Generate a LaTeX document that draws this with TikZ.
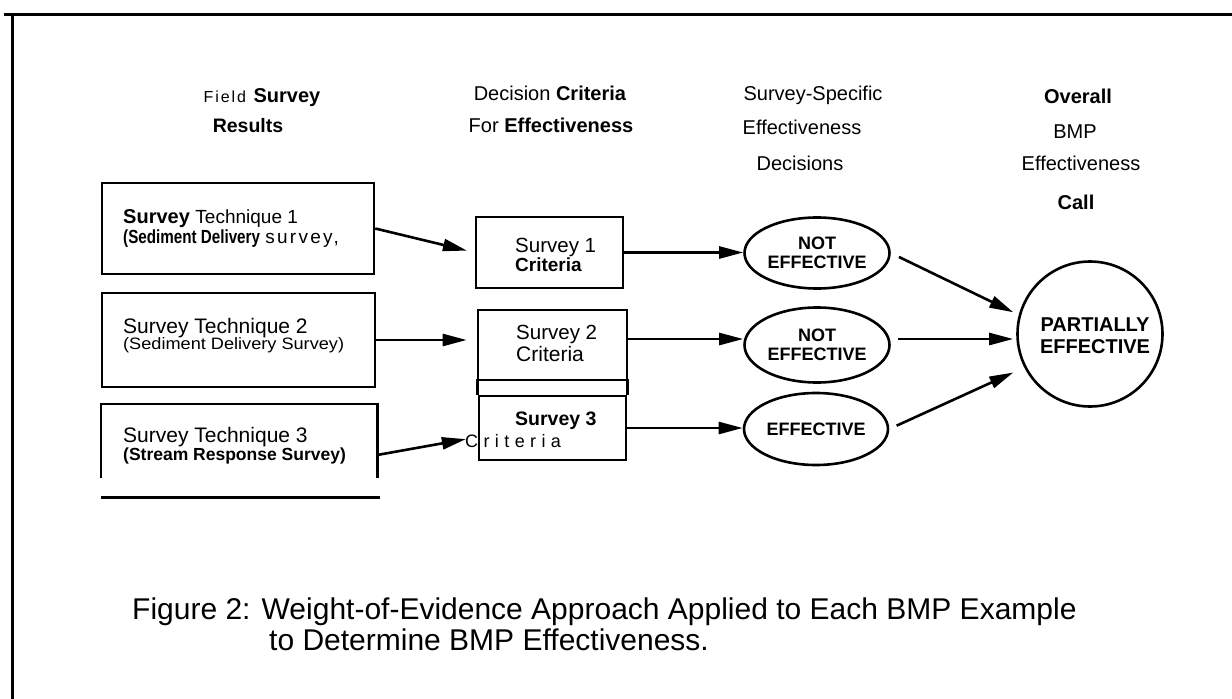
\documentclass[tikz,border=0pt]{standalone}
\usepackage{fontspec}
\setmainfont{Liberation Sans}
\newfontfamily\lsp[LetterSpace=12]{Liberation Sans}
\newfontfamily\lspw[LetterSpace=30]{Liberation Sans}
\newfontfamily\cnd[FakeStretch=0.8]{Liberation Sans}
\newfontfamily\wde[FakeStretch=1.1]{Liberation Sans}
\usetikzlibrary{arrows.meta,shapes.geometric}
\newcommand{\fs}[1]{\fontsize{#1}{#1}\selectfont}

\begin{document}
\begin{tikzpicture}[x=1pt,y=-1pt,
  box/.style={draw, line width=2.6pt, inner sep=0pt},
  oval/.style={ellipse, draw, line width=2.6pt, inner sep=0pt, align=center, font=\fontsize{18}{19.5}\selectfont\bfseries},
  arr/.style={line width=2.6pt, -{Triangle[length=24pt,width=12pt]}},
  hdr/.style={anchor=base, inner sep=0pt},
  txt/.style={anchor=base west, inner sep=0pt},
  edge/.style={line width=2.6pt}]
\useasboundingbox (0,0) rectangle (1232,699);
% frame
\draw[line width=3pt] (4,14.5) -- (1232,14.5);
\draw[line width=3pt] (12,13) -- (12,699);

% headers
\node[hdr] (h1a) at (262,102) {\fs{20}{\lsp\fs{16}Field} \textbf{Survey}};
\node[hdr] (h1b) at (248,132) {\fs{19.5}\bfseries Results};
\node[hdr] (h2a) at (550,100) {\fs{20}Decision \textbf{Criteria}};
\node[hdr] (h2b) at (551,132) {\fs{20}For \textbf{Effectiveness}};
\node[hdr] (h3a) at (813,100) {\fs{20}Survey-Specific};
\node[hdr] (h3b) at (802,134) {\fs{20}Effectiveness};
\node[hdr] (h3c) at (800,170) {\fs{20}Decisions};
\node[hdr] (h4a) at (1078,103) {\fs{20}\bfseries Overall};
\node[hdr] (h4b) at (1075,138) {\fs{20}BMP};
\node[hdr] (h4c) at (1081,170) {\fs{20}Effectiveness};
\node[hdr] (h4d) at (1076,209) {\fs{20}\bfseries Call};

% left boxes
\node[box, minimum width=272pt, minimum height=91pt] (b1) at (238,228.5) {};
\node[txt] (b1a) at (123,223.5) {\fs{20}\textbf{Survey} {\fs{19}Technique 1}};
\node[txt] (b1b) at (123,243) {\fs{19}{\cnd\bfseries\fs{19}(Sediment Delivery} {\lsp\fs{19}survey,}};

\node[box, minimum width=273pt, minimum height=94pt] (b2) at (238.5,340) {};
\node[txt] (b2a) at (123,333) {\fs{21}Survey Technique 2};
\node[txt] (b2b) at (123,349) {\wde\fs{16.5}(Sediment Delivery Survey)};

\node[inner sep=0pt, minimum width=276pt, minimum height=74pt] (b3) at (239,441) {};
\draw[edge] (b3.south west) -- (b3.north west) -- (b3.north east) -- (b3.south east);
\draw[edge] ([yshift=-19pt]b3.south west) -- ([yshift=-19pt,xshift=3pt]b3.south east);
\node[txt] (b3a) at (123,442) {\fs{21}Survey Technique 3};
\node[txt] (b3b) at (123,460) {\bfseries\fs{17.5}(Stream Response Survey)};

% criteria boxes
\node[box, minimum width=147pt, minimum height=71pt] (s1) at (549.5,252.5) {};
\node[txt] (s1a) at (515,252) {\fs{20.5}Survey 1};
\node[txt] (s1b) at (515,271) {\bfseries\fs{19}Criteria};

\node[box, minimum width=149pt, minimum height=70pt] (s2) at (552.5,345) {};
\node[txt] (s2a) at (516,339) {\fs{20.5}Survey 2};
\node[txt] (s2b) at (516,361) {\fs{21}Criteria};

\node[box, minimum width=147pt, minimum height=64pt] (s3) at (552.5,428) {};
\draw[edge] (s3.north west) -- ++(0,-16);
\draw[edge] (s3.north east) -- ++(0,-16);
\node[txt] (s3a) at (515,425) {\bfseries\fs{19.5}Survey 3};
\node[txt] (s3b) at (465,447) {\lspw\fs{18}Criteria};

% decisions
\node[oval, minimum width=145pt, minimum height=71pt] (e1) at (817,253) {NOT\\EFFECTIVE};
\node[oval, minimum width=145pt, minimum height=75pt] (e2) at (817,345) {NOT\\EFFECTIVE};
\node[oval, minimum width=144pt, minimum height=72pt] (e3) at (816,429) {EFFECTIVE};

% overall call
\node[circle, draw, line width=2.6pt, minimum size=145pt, inner sep=0pt] (c) at (1090,334) {};
\node[align=center, inner sep=0pt, font=\fontsize{20}{22}\selectfont\bfseries] (ct) at (1095,336) {PARTIALLY\\EFFECTIVE};

% arrows
\draw[arr, shorten >=8pt] (b1.east) -- (s1.west);
\draw[arr, shorten >=10pt] (b2.east) -- (b2.east -| s2.west);
\draw[arr, shorten >=12pt] ([yshift=-14pt]b3.east) -- ([yshift=-9pt]s3.west);

\draw[arr] (s1.east) -- (s1.east -| e1.west);
\draw[arr] ([yshift=6pt]s2.east) -- ([yshift=6pt]s2.east -| e2.west);
\draw[arr] (s3.east) -- (s3.east -| e3.west);

\draw[arr, shorten <=9pt, shorten >=6pt] (e1.east) -- (c.165);
\draw[arr, shorten <=7pt, shorten >=3pt] ([yshift=6pt]e2.east) -- ([yshift=6pt]e2.east -| c.west);
\draw[arr, shorten <=8pt, shorten >=12pt] (e3.east) -- (c.207);

% caption
\node[txt] (cap1) at (132,619) {\fs{30}Figure 2: Weight-of-Evidence Approach Applied to Each BMP Example};
\node[txt] (cap2) at (269,650) {\fs{30}to Determine BMP Effectiveness.};
\end{tikzpicture}
\end{document}
